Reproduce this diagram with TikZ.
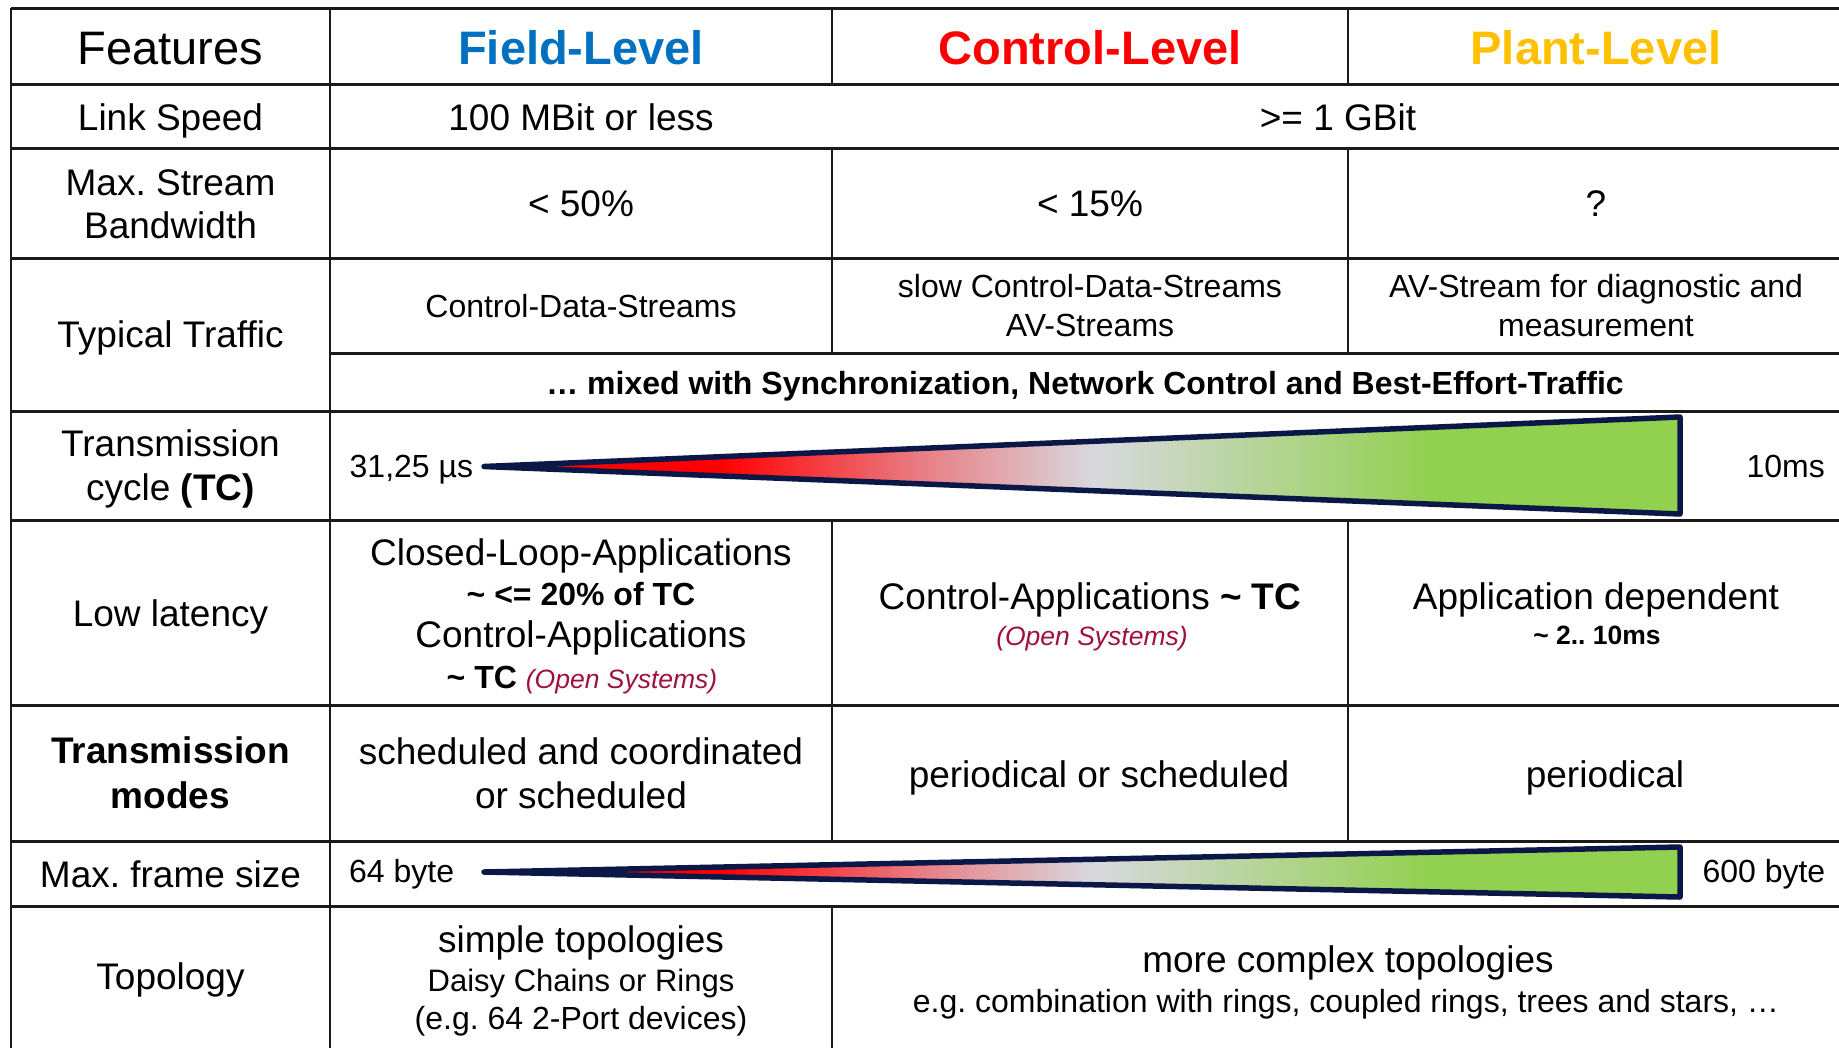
\documentclass[tikz,border=0pt]{standalone}
\usepackage{fontspec}
\setmainfont{Liberation Sans}
\frenchspacing
\definecolor{fieldblue}{HTML}{0070C0}
\definecolor{ctrlred}{HTML}{FF0000}
\definecolor{plantorange}{HTML}{FFC000}
\definecolor{opensys}{HTML}{A0103C}
\definecolor{wedgenavy}{HTML}{0B1746}
\definecolor{gred}{HTML}{FF0000}
\definecolor{gpink}{HTML}{E97B82}
\definecolor{ggray}{HTML}{D8D9DE}
\definecolor{ggreen}{HTML}{92D050}
\definecolor{rulecol}{HTML}{1A1A1A}
\pgfdeclarehorizontalshading{speedgrad}{100bp}{color(0bp)=(gred); color(34.9bp)=(gred); color(43.1bp)=(gpink); color(50.5bp)=(ggray); color(64.5bp)=(ggreen); color(100bp)=(ggreen)}
\newcommand\fszH{\fontsize{47}{56}\selectfont}
\newcommand\fszB{\fontsize{37}{44}\selectfont}
\newcommand\fszM{\fontsize{32}{38}\selectfont}
\newcommand\fszS{\fontsize{26.5}{32}\selectfont}
\tikzset{
  txt/.style={inner sep=0pt, anchor=base},
  big/.style={txt, font=\fszB},
  mid/.style={txt, font=\fszM},
  head/.style={txt, font=\fszH},
  hrule/.style={draw=rulecol, line width=3pt},
  vrule/.style={draw=rulecol, line width=2.3pt},
  wedge/.style={draw=wedgenavy, line width=5.5pt, line join=round, shading=speedgrad}
}
\begin{document}
\begin{tikzpicture}[x=1pt,y=-1pt]
\fill[white] (0,0) rectangle (1839,1047);
\useasboundingbox (0,0) rectangle (1839,1047);
% horizontal rules
\foreach \yy in {8,84,148,258,411,520,705,841,906}
  \draw[hrule] (11,\yy) -- (1845,\yy);
\draw[hrule] (330,353) -- (1845,353);
% vertical rules
\draw[vrule] (11,8) -- (11,1050);
\draw[vrule] (330,8) -- (330,1050);
\draw[vrule] (832,8) -- (832,84);
\draw[vrule] (832,148) -- (832,353);
\draw[vrule] (832,520) -- (832,841);
\draw[vrule] (832,906) -- (832,1050);
\draw[vrule] (1348,8) -- (1348,84);
\draw[vrule] (1348,148) -- (1348,353);
\draw[vrule] (1348,520) -- (1348,841);
% wedges
\shadedraw[wedge] (484,466.5) -- (1680,417) -- (1680,514) -- cycle;
\shadedraw[wedge] (484,872) -- (1680,847) -- (1680,897) -- cycle;
% header row
\node[head] (hfeat) at (170.5,64) {Features};
\node[head, font=\fszH\bfseries, text=fieldblue] (hfield) at (581,64) {Field-Level};
\node[head, font=\fszH\bfseries, text=ctrlred] (hctrl) at (1090,64) {Control-Level};
\node[head, font=\fszH\bfseries, text=plantorange] (hplant) at (1596,64) {Plant-Level};
% link speed
\node[big] (lsl) at (170.5,130) {Link Speed};
\node[big] (lsf) at (581,130) {100 MBit or less};
\node[big] (lsc) at (1338,130) {>= 1 GBit};
% max stream bandwidth
\node[big] (msl1) at (170.5,195) {Max. Stream};
\node[big] (msl2) at (170.5,238) {Bandwidth};
\node[big] (msf) at (581,216) {< 50\%};
\node[big] (msc) at (1090,216) {< 15\%};
\node[big] (msp) at (1596,216) {?};
% typical traffic
\node[big] (ttl) at (170.5,347.5) {Typical Traffic};
\node[mid] (ttf) at (581,317.7) {Control-Data-Streams};
\node[mid] (ttc1) at (1090,297.6) {slow Control-Data-Streams};
\node[mid] (ttc2) at (1090,336) {AV-Streams};
\node[mid] (ttp1) at (1596,297.6) {AV-Stream for diagnostic and};
\node[mid] (ttp2) at (1596,336) {measurement};
\node[mid, font=\fszM\bfseries] (ttmix) at (1085,394) {… mixed with Synchronization, Network Control and Best-Effort-Traffic};
% transmission cycle
\node[big] (tcl1) at (170.5,456) {Transmission};
\node[big] (tcl2) at (170.5,500) {cycle \textbf{(TC)}};
\node[mid, anchor=base west] (tcmin) at (349.5,477) {31,25 µs};
\node[mid, anchor=base east] (tcmax) at (1825,477) {10ms};
% low latency
\node[big] (lll) at (170.5,626.5) {Low latency};
\node[big] (llf1) at (581,565) {Closed-Loop-Applications};
\node[mid, font=\fszM\bfseries] (llf2) at (581,605) {\textasciitilde\ <= 20\% of TC};
\node[big] (llf3) at (581,647) {Control-Applications};
\node[txt] (llf4) at (582,688) {\fszM\bfseries \textasciitilde\ TC \fszS\mdseries\itshape\color{opensys}(Open Systems)};
\node[big] (llc1) at (1090,609) {Control-Applications \textbf{\textasciitilde\ TC}};
\node[txt, font=\fszS\itshape, text=opensys] (llc2) at (1092,645) {(Open Systems)};
\node[big] (llp1) at (1596,609) {Application dependent};
\node[txt, font=\fszS\bfseries] (llp2) at (1597,644.6) {\textasciitilde\ 2.. 10ms};
% transmission modes
\node[big, font=\fszB\bfseries] (tml1) at (170.5,763.5) {Transmission};
\node[big, font=\fszB\bfseries] (tml2) at (170.5,808.7) {modes};
\node[big] (tmf1) at (581,764) {scheduled and coordinated};
\node[big] (tmf2) at (581,808.7) {or scheduled};
\node[big] (tmc) at (1099,787) {periodical or scheduled};
\node[big] (tmp) at (1605,787) {periodical};
% max frame size
\node[big] (mfl) at (170.5,887) {Max. frame size};
\node[mid, anchor=base west] (mfmin) at (349,882) {64 byte};
\node[mid, anchor=base east] (mfmax) at (1825.5,882) {600 byte};
% topology
\node[big] (tpl) at (170.5,989.5) {Topology};
\node[big] (tpf1) at (581,952) {simple topologies};
\node[txt, font=\fontsize{31}{37}\selectfont] (tpf2) at (581,991) {Daisy Chains or Rings};
\node[mid] (tpf3) at (581,1029) {(e.g. 64 2-Port devices)};
\node[big] (tpc1) at (1348,972) {more complex topologies};
\node[mid] (tpc2) at (1346,1012) {e.g. combination with rings, coupled rings, trees and stars, …};
\end{tikzpicture}
\end{document}
